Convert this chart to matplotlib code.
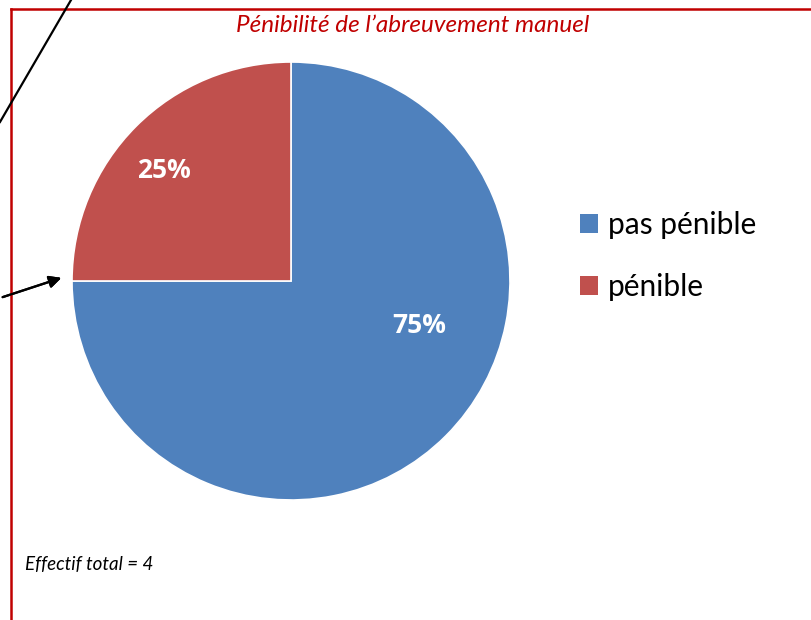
import numpy as np
import matplotlib.pyplot as plt
from matplotlib.patches import Patch
from matplotlib.lines import Line2D

# Réponses à l'enquête
categories = ['pas pénible', 'pénible']
effectifs = [3, 1]
couleurs = ['#4F81BD', '#C0504D']
titre = "Pénibilité de l’abreuvement manuel"
note = "Effectif total = 4"

W, H = 811, 620
fig = plt.figure(figsize=(W / 100, H / 100), dpi=100)

# cadre rouge (haut et gauche)
fig.add_artist(Line2D([11 / W, 810 / W], [1 - 9 / H, 1 - 9 / H], color='#C00000', lw=1.8))
fig.add_artist(Line2D([11 / W, 11 / W], [0, 1 - 9 / H], color='#C00000', lw=1.8))

fig.text(413 / W, 1 - 25 / H, titre, color='#C00000', fontsize=17.5, style='italic',
         family='Lato', ha='center', va='center')

# camembert
ax = fig.add_axes([72 / W, 120 / H, 438 / W, 438 / H])
parts = [e / sum(effectifs) for e in effectifs]
wedges, _, pcts = ax.pie(parts, colors=couleurs, startangle=90, counterclock=False,
                         autopct='%1.0f%%', radius=1,
                         wedgeprops=dict(edgecolor='white', linewidth=1.2),
                         textprops=dict(color='white', fontsize=19, fontweight='bold',
                                        family='Open Sans'))
# positions des pourcentages façon Excel
for t, (r, a) in zip(pcts, [(0.62, -19), (0.77, 139)]):
    t.set_position((r * np.cos(np.radians(a)), r * np.sin(np.radians(a))))
ax.set_xlim(-1.0, 1.0)
ax.set_ylim(-1.0, 1.0)
ax.set_aspect('equal')

handles = [Patch(facecolor=c, edgecolor='none') for c in couleurs]
fig.legend(handles, categories, loc='center left', bbox_to_anchor=(553 / W, 1 - 256 / H),
           frameon=False, prop=dict(family='Lato', size=21.5),
           handlelength=0.6, handleheight=0.6, handletextpad=0.35, labelspacing=1.15)

fig.text(25 / W, 1 - 565 / H, note, fontsize=13.5, style='italic', family='Lato',
         ha='left', va='center')

# flèches
fig.add_artist(Line2D([71 / W, 0], [1, 1 - 122 / H], color='black', lw=1.6))
fig.add_artist(plt.annotate('', xy=(64 / W, 1 - 277 / H), xytext=(0, 1 - 298 / H),
                            xycoords='figure fraction', textcoords='figure fraction',
                            arrowprops=dict(arrowstyle='-|>', color='black', lw=1.6,
                                            mutation_scale=18)))

fig.savefig('out.png', dpi=100, facecolor='white')
